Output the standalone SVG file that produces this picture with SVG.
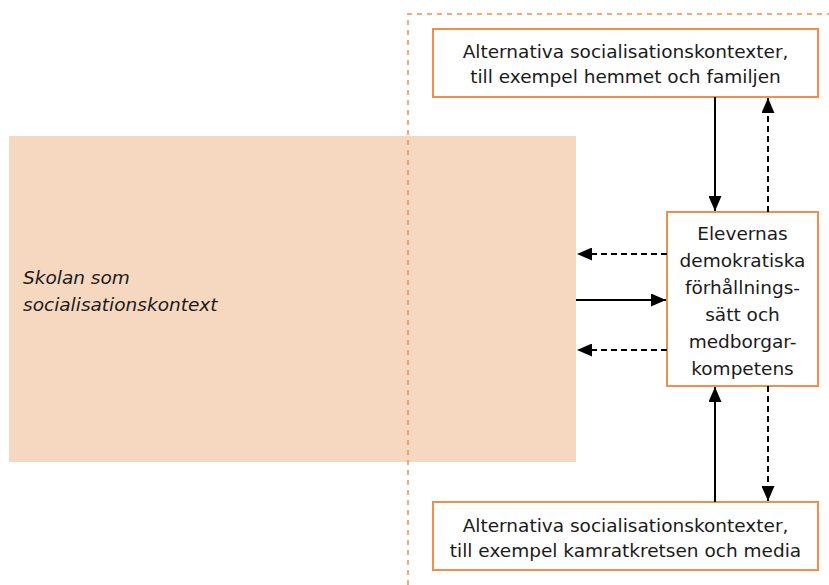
<svg xmlns="http://www.w3.org/2000/svg" width="829" height="585" viewBox="0 0 829 585">
<style>
.box{fill:#fff;stroke:#EE8F4E;stroke-width:2}
.t{font-family:"DejaVu Sans","Liberation Sans",Arial,sans-serif;font-size:18.5px;fill:#1a1a1a;text-anchor:middle}
.it{font-family:"DejaVu Sans","Liberation Sans",Arial,sans-serif;font-size:18.5px;font-style:italic;fill:#1a1a1a}
.solid{stroke:#000;stroke-width:2;fill:none}
.dash{stroke:#000;stroke-width:2;fill:none;stroke-dasharray:6,4}
</style>
<defs>
<marker id="ah2" viewBox="0 0 10 10" refX="10" refY="5" markerWidth="15" markerHeight="13" markerUnits="userSpaceOnUse" orient="auto" preserveAspectRatio="none">
<path d="M0,0 L10,5 L0,10 z" fill="#000"/>
</marker>
</defs>
<rect width="829" height="585" fill="#fff"/>
<g id="school">
<rect x="9" y="136" width="567" height="326" fill="#F6D8C0"/>
<text class="it" x="23" y="284">Skolan som</text>
<text class="it" x="23" y="311">socialisationskontext</text>
</g>
<g id="boundary">
<path d="M408,585 L408,14 L829,14" fill="none" stroke="#EE8F4E" stroke-width="1.5" stroke-dasharray="5,5"/>
</g>
<g id="top">
<rect class="box" x="433" y="29" width="385" height="68"/>
<text class="t" x="625.5" y="58">Alternativa socialisationskontexter,</text>
<text class="t" x="625.5" y="83">till exempel hemmet och familjen</text>
</g>
<g id="center">
<rect class="box" x="667" y="212" width="151" height="174"/>
<text class="t" x="742.5" y="240">Elevernas</text>
<text class="t" x="742.5" y="267">demokratiska</text>
<text class="t" x="742.5" y="294">förhållnings-</text>
<text class="t" x="742.5" y="321">sätt och</text>
<text class="t" x="742.5" y="348">medborgar-</text>
<text class="t" x="742.5" y="375">kompetens</text>
</g>
<g id="bottom">
<rect class="box" x="433" y="502" width="385" height="68"/>
<text class="t" x="625.5" y="532">Alternativa socialisationskontexter,</text>
<text class="t" x="625.5" y="557">till exempel kamratkretsen och media</text>
</g>
<g id="connectors">
<line class="solid" x1="715" y1="97" x2="715" y2="211" marker-end="url(#ah2)"/>
<line class="dash" x1="768" y1="212" x2="768" y2="98" marker-end="url(#ah2)"/>
<line class="solid" x1="715" y1="502" x2="715" y2="387" marker-end="url(#ah2)"/>
<line class="dash" x1="768" y1="386" x2="768" y2="501" marker-end="url(#ah2)"/>
<line class="dash" x1="667" y1="254" x2="577" y2="254" marker-end="url(#ah2)"/>
<line class="solid" x1="576" y1="300" x2="666" y2="300" marker-end="url(#ah2)"/>
<line class="dash" x1="667" y1="350" x2="577" y2="350" marker-end="url(#ah2)"/>
</g>
</svg>
